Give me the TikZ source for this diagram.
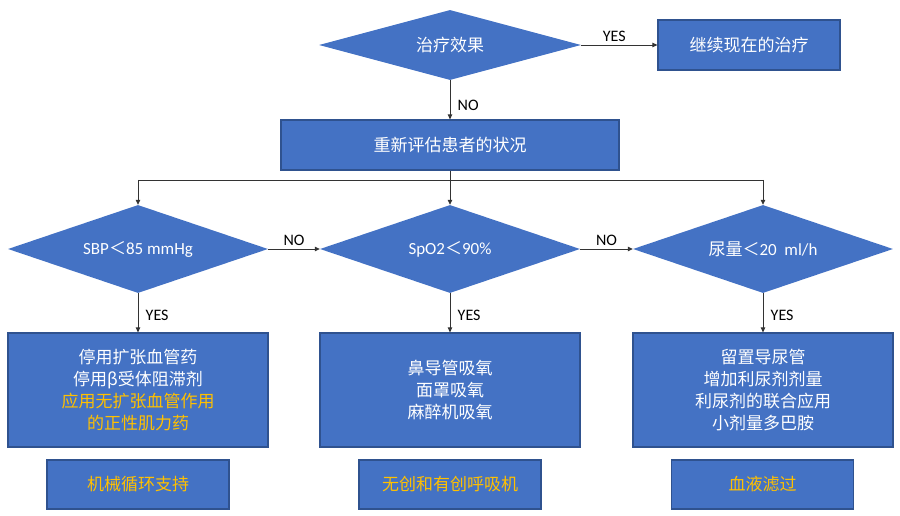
\documentclass[tikz,border=0pt]{standalone}
\usepackage{fontspec}
\setmainfont{Carlito}
\newfontfamily\cjk{Noto Sans CJK SC}
\usetikzlibrary{shapes.geometric,arrows.meta,positioning}

\definecolor{boxblue}{HTML}{4472C4}
\definecolor{boxedge}{HTML}{2F528F}
\definecolor{gold}{HTML}{FFC000}

\begin{document}
\begin{tikzpicture}[x=1pt,y=-1pt,
  decision/.style={diamond,aspect=3,fill=boxblue,inner sep=0pt,text=white,
    font=\fontsize{17}{22}\selectfont},
  check/.style={decision,minimum width=260pt,minimum height=88pt},
  stepbox/.style={rectangle,fill=boxblue,draw=boxedge,line width=1.2pt,
    text=white,align=center,font=\cjk\fontsize{17}{22}\selectfont},
  action/.style={stepbox,minimum width=260pt,minimum height=114pt},
  support/.style={stepbox,text=gold,minimum width=182pt,minimum height=49pt},
  flow/.style={-{Triangle[length=5pt,width=4.5pt]},line width=0.8pt,draw=black!80},
  lab/.style={font=\fontsize{16}{19}\selectfont,text=black},
  down/.style={lab,right,xshift=4pt,yshift=-3pt}]

\useasboundingbox (0,0) rectangle (900,516);

%First decision
\node[decision,aspect=3.7,minimum width=262pt,minimum height=70pt] (effect) at (450,45) {\cjk 治疗效果};
\node[stepbox,minimum width=182pt,minimum height=50pt] (keep) at (749,45) {继续现在的治疗};
\node[stepbox,minimum width=338pt,minimum height=50pt] (reassess) at (450,145) {重新评估患者的状况};

%Three checks
\node[check] (sbp) at (138,249) {SBP{\cjk ＜}85 mmHg};
\node[check] (spo) at (450,249) {SpO2{\cjk ＜}90\%};
\node[check] (urine) at (763,249) {{\cjk 尿量＜}20\ \ ml/h};

%Measures
\node[action] (sbpact) at (138,390)
  {停用扩张血管药\\停用β受体阻滞剂\\\textcolor{gold}{应用无扩张血管作用}\\\textcolor{gold}{的正性肌力药}};
\node[action] (spoact) at (450,390)
  {鼻导管吸氧\\面罩吸氧\\麻醉机吸氧};
\node[action] (urineact) at (763,390)
  {留置导尿管\\增加利尿剂剂量\\利尿剂的联合应用\\小剂量多巴胺};

%Further support
\node[support] (sbpmore) at (138,484.5) {机械循环支持};
\node[support] (spomore) at (450,484.5) {无创和有创呼吸机};
\node[support] (urinemore) at (762.5,484.5) {血液滤过};

%Branch points
\coordinate (jL) at (138,180);
\coordinate (jR) at (763,180);

%Drawing connectors
\draw[flow] (effect.east) -- node[lab,above,xshift=-5pt] {YES} (keep.west);
\draw[flow] (effect.south) -- node[down,yshift=-3pt] {NO} (reassess.north);
\draw[flow] (reassess.south) -- (spo.north);
\draw[line width=0.8pt,draw=black!80] (jL) -- (jR);
\draw[flow] (jL) -- (sbp.north);
\draw[flow] (jR) -- (urine.north);
\draw[flow] (sbp.east) -- node[lab,above] {NO} (spo.west);
\draw[flow] (spo.east) -- node[lab,above] {NO} (urine.west);
\draw[flow] (sbp.south) -- node[down] {YES} (sbpact.north);
\draw[flow] (spo.south) -- node[down] {YES} (spoact.north);
\draw[flow] (urine.south) -- node[down] {YES} (urineact.north);
\end{tikzpicture}
\end{document}
